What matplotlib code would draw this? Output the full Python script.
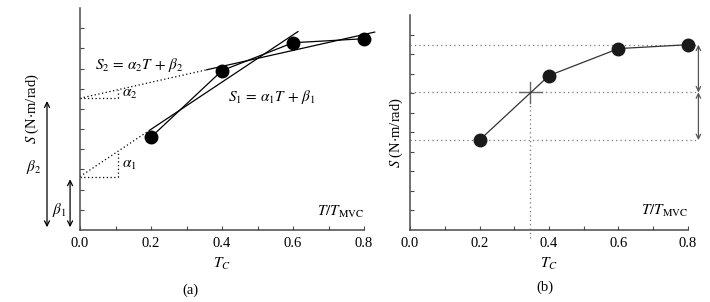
import numpy as np
import matplotlib.pyplot as plt
from matplotlib.patches import FancyArrowPatch

plt.rcParams['font.family'] = ['Liberation Serif', 'DejaVu Serif']
plt.rcParams['mathtext.fontset'] = 'stix'

# datos
tc = [0.2, 0.4, 0.6, 0.8]
s = [4.6, 7.9, 9.28, 9.48]

# rectas de ajuste (a)
alpha1, beta1 = 11.7, 2.65
alpha2, beta2 = 3.95, 6.53
s1_solid = (0.197, 0.614)
s2_solid = (0.357, 0.83)
tri_x = 0.107

# (b)
s_min, s_max = 4.6, 9.48
s_mid = 7.04
t_c = 0.345

xticks = [0.0, 0.1, 0.2, 0.3, 0.4, 0.5, 0.6, 0.7, 0.8]
xlabels = ['0.0', '', '0.2', '', '0.4', '', '0.6', '', '0.8']
yticks = [1, 2, 3, 4, 5, 6, 7, 8, 9, 10]

axis_col = '#4a4a4a'
fs = 10.5
fm = 11

fig = plt.figure(figsize=(7.1, 3.02), dpi=100)
axa = fig.add_axes([0.1127, 0.2384, 0.400, 0.735])
axb = fig.add_axes([0.5775, 0.2384, 0.3915, 0.712])


def style(ax):
    ax.set_xlim(0, 0.8)
    ax.set_ylim(0, 11)
    for sp in ['top', 'right']:
        ax.spines[sp].set_visible(False)
    for sp in ['left', 'bottom']:
        ax.spines[sp].set_color(axis_col)
        ax.spines[sp].set_linewidth(1.1)
    ax.set_xticks(xticks)
    ax.set_xticklabels(xlabels, fontsize=fs)
    ax.set_yticks(yticks)
    ax.set_yticklabels([])
    ax.tick_params(direction='in', length=3, width=0.8, color=axis_col, pad=5)
    ax.patch.set_alpha(0)


style(axa)
style(axb)

# ---- panel (a)
axa.plot(tc, s, color='black', lw=0.9, zorder=3)
axa.plot(tc, s, 'o', color='black', ms=9, zorder=4, clip_on=False)

x1 = np.array(s1_solid)
axa.plot(x1, alpha1 * x1 + beta1, color='black', lw=0.9, clip_on=False)
x1d = np.array([0, s1_solid[0]])
axa.plot(x1d, alpha1 * x1d + beta1, color='black', lw=0.9, ls=(0, (1, 2)))
x2 = np.array(s2_solid)
axa.plot(x2, alpha2 * x2 + beta2, color='black', lw=0.9, clip_on=False)
x2d = np.array([0, s2_solid[0]])
axa.plot(x2d, alpha2 * x2d + beta2, color='black', lw=0.9, ls=(0, (1, 2)))

# triangulos de pendiente
for a, b in [(alpha1, beta1), (alpha2, beta2)]:
    axa.plot([0, tri_x], [b, b], color='black', lw=0.9, ls=(0, (1, 2)))
    axa.plot([tri_x, tri_x], [b, b + a * tri_x], color='black', lw=0.9, ls=(0, (1, 2)))
axa.text(tri_x + 0.01, beta1 + 0.55, r'$\alpha_1$', fontsize=fm, va='center')
axa.text(tri_x + 0.01, beta2 + 0.2, r'$\alpha_2$', fontsize=fm, va='center')

axa.text(0.042, 8.2, r'$S_2\,=\,\alpha_2 T\,+\,\beta_2$', fontsize=fm, va='center')
axa.text(0.417, 6.58, r'$S_1\,=\,\alpha_1 T\,+\,\beta_1$', fontsize=fm, va='center')
axa.text(0.8, 0.9, r'$T/T_{\mathrm{MVC}}$', fontsize=fm, ha='right', va='center')

# flechas beta
for xa, b in [(-0.093, beta2), (-0.028, beta1)]:
    arr = FancyArrowPatch((xa, 0), (xa, b), arrowstyle='<->', mutation_scale=9,
                          color='black', lw=0.9, clip_on=False)
    axa.add_patch(arr)
axa.text(-0.13, 3.1, r'$\beta_2$', fontsize=fm, ha='center', va='center')
axa.text(-0.058, 1.0, r'$\beta_1$', fontsize=fm, ha='center', va='center')

axa.text(-0.135, 6.0, r'$S$ (N$\cdot$m/rad)', fontsize=fs, rotation=90,
         ha='center', va='center')
axa.set_xlabel(r'$T_C$', fontsize=fm, labelpad=4)
fig.text(0.268, 0.04, '(a)', fontsize=fs, ha='center', va='center')

# ---- panel (b)
for lvl in [s_min, s_mid, s_max]:
    axb.plot([0, 0.825], [lvl, lvl], color='#777777', lw=0.9, ls=(0, (1, 2.5)), clip_on=False)
axb.plot([t_c, t_c], [-0.4, s_mid], color='#777777', lw=0.9, ls=(0, (1, 2.5)), clip_on=False)
axb.plot([t_c - 0.03, t_c + 0.035], [s_mid, s_mid], color='#666666', lw=1.0)
axb.plot([t_c, t_c], [s_mid - 0.55, s_mid + 0.55], color='#666666', lw=1.0)

axb.plot(tc, s, color='#333333', lw=0.9, zorder=3)
axb.plot(tc, s, 'o', color='#1a1a1a', ms=9, zorder=4, clip_on=False)

for lo, hi in [(s_mid, s_max), (s_min, s_mid)]:
    arr = FancyArrowPatch((0.83, lo), (0.83, hi), arrowstyle='<->', mutation_scale=8,
                          color='#555555', lw=0.9, clip_on=False, shrinkA=0, shrinkB=0)
    axb.add_patch(arr)

axb.text(0.8, 1.0, r'$T/T_{\mathrm{MVC}}$', fontsize=fm, ha='right', va='center')
axb.text(-0.04, 5.0, r'$S$ (N$\cdot$m/rad)', fontsize=fs, rotation=90,
         ha='center', va='center')
axb.set_xlabel(r'$T_C$', fontsize=fm, labelpad=4)
fig.text(0.768, 0.05, '(b)', fontsize=fs, ha='center', va='center')

fig.savefig('out.png', dpi=100)
